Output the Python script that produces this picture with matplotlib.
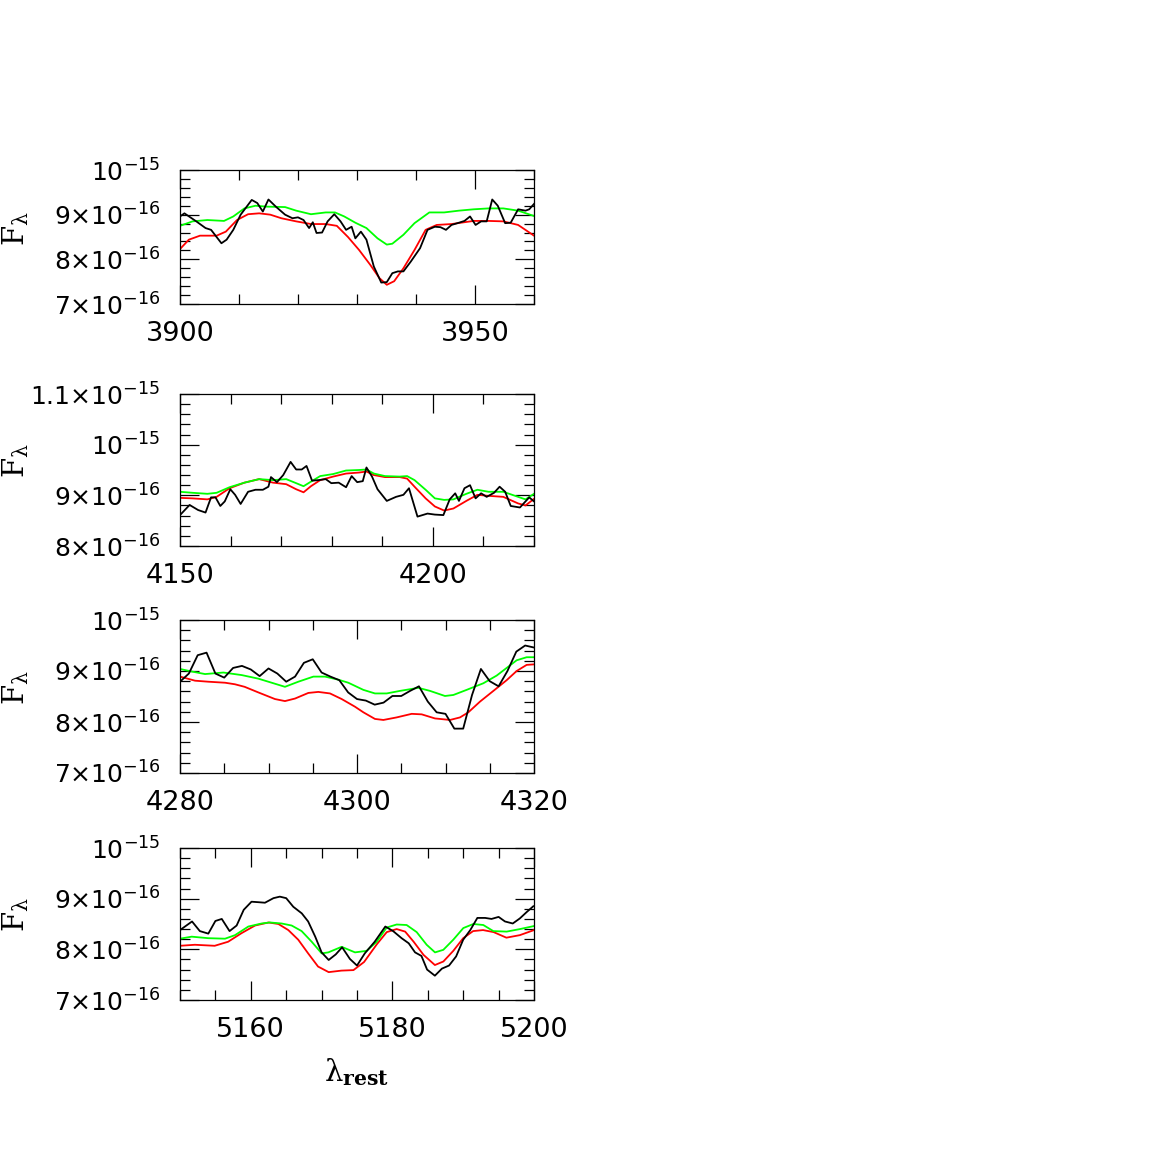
import numpy as np
import matplotlib
matplotlib.use("Agg")
import matplotlib.pyplot as plt
from matplotlib.ticker import MultipleLocator

# Flux values are in units of 1e-16

# --- Panel 1 : 3900-3960 ---
p1_obs_wave = [3900.0, 3900.75, 3902.76, 3904.33, 3905.27, 3907.02, 3907.9, 3909.03, 3910.28, 3912.16,
               3913.1, 3914.04, 3914.99, 3916.24, 3917.81, 3919.06, 3920.0, 3920.94, 3921.88, 3922.51,
               3923.14, 3924.08, 3925.02, 3926.15, 3927.21, 3928.15, 3929.09, 3929.72, 3930.66, 3931.6,
               3932.85, 3934.11, 3935.05, 3935.99, 3936.93, 3937.87, 3939.12, 3940.69, 3941.95, 3943.2,
               3944.14, 3945.08, 3946.02, 3947.28, 3948.22, 3949.16, 3950.1, 3951.04, 3951.98, 3952.92,
               3953.86, 3955.11, 3956.05, 3957.31, 3958.56, 3959.19, 3960.0]
p1_obs_flux = [8.96, 9.03, 8.85, 8.70, 8.66, 8.36, 8.44, 8.66, 9.00, 9.33,
               9.26, 9.07, 9.34, 9.18, 9.00, 8.92, 8.94, 8.88, 8.70, 8.83,
               8.59, 8.60, 8.85, 9.01, 8.85, 8.66, 8.73, 8.47, 8.62, 8.44,
               7.84, 7.48, 7.49, 7.69, 7.73, 7.73, 7.95, 8.25, 8.66, 8.73,
               8.72, 8.66, 8.77, 8.82, 8.86, 8.96, 8.77, 8.85, 8.85, 9.34,
               9.20, 8.81, 8.82, 9.12, 9.09, 9.12, 9.24]
p1_red_wave = [3900, 3901.5, 3903.39, 3906.2, 3907.77, 3909.66, 3911.54, 3913.42, 3915.3, 3917.18,
               3919.69, 3922.2, 3924.7, 3926.58, 3928.47, 3930.35, 3932.23, 3933.8, 3935.05, 3936.3,
               3937.87, 3939.75, 3941.63, 3943.51, 3946.02, 3949.78, 3952.29, 3954.8, 3957.31, 3960]
p1_red_flux = [8.23, 8.44, 8.53, 8.53, 8.62, 8.88, 9.01, 9.03, 9.00, 8.92,
               8.85, 8.79, 8.79, 8.75, 8.50, 8.21, 7.88, 7.58, 7.43, 7.51,
               7.80, 8.21, 8.66, 8.77, 8.79, 8.86, 8.86, 8.85, 8.77, 8.53]
p1_green_wave = [3900, 3902.13, 3904.64, 3907.46, 3909.03, 3910.91, 3912.79, 3914.67, 3917.81, 3919.69,
                 3922.2, 3924.7, 3926.27, 3927.84, 3929.72, 3931.6, 3933.48, 3935.05, 3935.99, 3937.87,
                 3939.75, 3942.26, 3944.77, 3947.28, 3949.78, 3952.29, 3954.8, 3957.31, 3960]
p1_green_flux = [8.75, 8.85, 8.88, 8.86, 8.96, 9.14, 9.20, 9.18, 9.17, 9.09,
                 9.01, 9.05, 9.05, 8.96, 8.82, 8.70, 8.47, 8.33, 8.35, 8.55,
                 8.81, 9.05, 9.05, 9.09, 9.12, 9.14, 9.14, 9.09, 8.97]

# --- Panel 2 : 4150-4220 ---
p2_obs_wave = [4150.0, 4151.9, 4153.58, 4155.05, 4156.14, 4157.02, 4157.97, 4158.85, 4159.95, 4160.9,
               4161.99, 4163.46, 4164.92, 4166.39, 4167.48, 4167.99, 4169.17, 4170.41, 4171.87, 4172.97,
               4174.07, 4175.02, 4176.11, 4177.36, 4178.82, 4179.92, 4181.38, 4182.84, 4183.94, 4185.04,
               4186.14, 4186.87, 4187.97, 4189.06, 4190.89, 4192.72, 4194.18, 4195.28, 4196.96, 4198.94,
               4200.4, 4202.08, 4203.33, 4204.42, 4205.16, 4206.25, 4207.35, 4208.45, 4209.54, 4210.64,
               4212.1, 4213.2, 4214.3, 4215.4, 4217.22, 4218.32, 4219.05, 4220.0]
p2_obs_flux = [8.61, 8.81, 8.71, 8.66, 8.96, 8.96, 8.79, 8.88, 9.12, 9.01,
               8.83, 9.07, 9.11, 9.11, 9.17, 9.36, 9.26, 9.40, 9.66, 9.51,
               9.51, 9.58, 9.29, 9.30, 9.32, 9.24, 9.25, 9.16, 9.38, 9.26,
               9.28, 9.55, 9.37, 9.12, 8.89, 8.97, 9.01, 9.14, 8.58, 8.64,
               8.62, 8.61, 8.92, 9.04, 8.89, 9.14, 9.20, 8.94, 9.04, 8.97,
               9.05, 9.17, 9.07, 8.79, 8.76, 8.88, 8.96, 8.88]
p2_model_wave = [4150, 4152.49, 4155.41, 4157.24, 4159.8, 4162.73, 4165.65, 4168.4, 4171.0, 4172.97,
                 4174.43, 4175.89, 4177.72, 4180.28, 4182.84, 4185.4, 4186.87, 4188.33, 4190.53, 4193.45,
                 4194.91, 4196.38, 4198.57, 4200.4, 4202.23, 4204.06, 4206.62, 4208.81, 4211.01, 4213.93,
                 4216.86, 4218.32, 4220]
p2_red_flux = [8.95, 8.94, 8.92, 8.97, 9.14, 9.25, 9.32, 9.25, 9.22, 9.12,
               9.06, 9.18, 9.30, 9.37, 9.43, 9.45, 9.47, 9.40, 9.36, 9.36,
               9.33, 9.17, 8.94, 8.78, 8.70, 8.74, 8.89, 9.01, 8.99, 8.97,
               8.84, 8.80, 8.93]
p2_green_flux = [9.07, 9.05, 9.03, 9.05, 9.16, 9.25, 9.32, 9.30, 9.32, 9.24,
                 9.18, 9.27, 9.38, 9.42, 9.49, 9.50, 9.51, 9.43, 9.38, 9.37,
                 9.38, 9.30, 9.11, 8.94, 8.91, 8.92, 9.03, 9.11, 9.07, 9.07,
                 8.97, 8.92, 9.03]

# --- Panel 3 : 4280-4320 ---
p3_obs_wave = [4280, 4281, 4282, 4283, 4284, 4285, 4286, 4287, 4288, 4289,
               4290, 4291, 4292, 4293, 4294, 4295, 4296, 4297, 4298, 4299,
               4300, 4301, 4302, 4303, 4304, 4305, 4306, 4307, 4308, 4309,
               4310, 4311, 4312, 4313, 4314, 4315, 4316, 4317, 4318, 4319, 4320]
p3_obs_flux = [8.79, 8.95, 9.31, 9.36, 8.95, 8.87, 9.06, 9.10, 9.03, 8.90,
               9.05, 8.95, 8.79, 8.89, 9.16, 9.23, 8.97, 8.89, 8.82, 8.58,
               8.45, 8.42, 8.34, 8.38, 8.51, 8.51, 8.61, 8.70, 8.40, 8.19,
               8.16, 7.87, 7.87, 8.53, 9.04, 8.80, 8.70, 9.00, 9.38, 9.50, 9.46]
p3_red_wave = [4280.0, 4281.7, 4283.2, 4285.1, 4286.2, 4287.3, 4288.85, 4290.73, 4291.86, 4293.0,
               4294.5, 4295.63, 4296.95, 4298.27, 4299.77, 4300.72, 4302.03, 4302.98, 4304.48, 4306.18,
               4307.31, 4308.81, 4310.51, 4311.64, 4312.58, 4313.9, 4315.41, 4316.91, 4318.04, 4319.17, 4320.0]
p3_red_flux = [8.89, 8.81, 8.79, 8.77, 8.74, 8.69, 8.58, 8.45, 8.41, 8.46,
               8.57, 8.59, 8.56, 8.45, 8.30, 8.19, 8.06, 8.04, 8.09, 8.16,
               8.15, 8.07, 8.04, 8.09, 8.19, 8.40, 8.61, 8.82, 9.00, 9.12, 9.13]
p3_green_wave = [4280.0, 4281.32, 4282.83, 4284.9, 4286.97, 4288.85, 4290.36, 4291.86, 4293.37, 4295.07,
                 4296.38, 4297.89, 4299.02, 4300.72, 4302.03, 4303.35, 4304.86, 4306.93, 4308.25, 4309.94,
                 4310.89, 4312.39, 4314.28, 4315.78, 4316.91, 4318.04, 4319.17, 4320.0]
p3_green_flux = [9.04, 8.99, 8.94, 8.97, 8.92, 8.85, 8.77, 8.69, 8.79, 8.89,
                 8.89, 8.83, 8.77, 8.63, 8.56, 8.56, 8.61, 8.67, 8.61, 8.51,
                 8.53, 8.63, 8.76, 8.91, 9.06, 9.21, 9.27, 9.27]

# --- Panel 4 : 5150-5200 ---
p4_obs_wave = [5150.0, 5150.7, 5151.7, 5152.8, 5154.0, 5155.0, 5155.9, 5157.0, 5158.0, 5159.0,
               5160.1, 5161.1, 5162.0, 5163.2, 5164.1, 5165.0, 5166.0, 5167.2, 5168.1, 5169.1,
               5170.0, 5171.0, 5172.0, 5172.9, 5174.0, 5175.0, 5176.1, 5177.5, 5179.0, 5180.1,
               5181.3, 5182.3, 5183.2, 5184.1, 5184.9, 5186.0, 5187.0, 5188.0, 5189.0, 5190.0,
               5191.0, 5192.0, 5193.1, 5194.0, 5195.0, 5195.9, 5197.0, 5198.0, 5199.0, 5199.9]
p4_obs_flux = [8.38, 8.45, 8.55, 8.36, 8.31, 8.56, 8.60, 8.36, 8.47, 8.78,
               8.94, 8.93, 8.92, 9.01, 9.04, 9.01, 8.84, 8.71, 8.55, 8.25,
               7.94, 7.79, 7.90, 8.04, 7.81, 7.68, 7.92, 8.15, 8.45, 8.36,
               8.22, 8.12, 7.94, 7.87, 7.60, 7.48, 7.62, 7.68, 7.86, 8.19,
               8.38, 8.62, 8.62, 8.60, 8.64, 8.55, 8.51, 8.61, 8.74, 8.85]
p4_red_wave = [5150.0, 5152.1, 5154.9, 5156.8, 5158.7, 5160.6, 5162.5, 5163.9, 5165.3, 5166.7,
               5168.1, 5169.5, 5171.0, 5172.8, 5174.5, 5176.0, 5177.8, 5179.2, 5180.6, 5181.8,
               5183.0, 5184.4, 5186.0, 5187.2, 5188.6, 5190.0, 5191.4, 5192.8, 5194.3, 5196.1,
               5198.0, 5200.0]
p4_red_flux = [8.07, 8.09, 8.07, 8.15, 8.32, 8.47, 8.53, 8.50, 8.38, 8.19,
               7.92, 7.66, 7.55, 7.58, 7.59, 7.75, 8.10, 8.34, 8.40, 8.35,
               8.15, 7.89, 7.69, 7.76, 7.97, 8.22, 8.36, 8.38, 8.34, 8.23,
               8.28, 8.38]
p4_green_wave = [5150.0, 5151.65, 5154.0, 5156.36, 5157.77, 5159.65, 5161.53, 5162.71, 5164.36, 5165.77,
                 5167.18, 5168.6, 5170.01, 5170.95, 5172.83, 5174.72, 5176.36, 5177.78, 5179.19, 5180.6,
                 5182.01, 5183.43, 5184.84, 5186.02, 5187.19, 5188.6, 5190.02, 5191.43, 5192.84, 5194.25,
                 5196.14, 5198.02, 5200.0]
p4_green_flux = [8.21, 8.25, 8.22, 8.21, 8.28, 8.45, 8.51, 8.53, 8.51, 8.47,
                 8.36, 8.15, 7.92, 7.94, 8.05, 7.94, 7.97, 8.15, 8.43, 8.49,
                 8.48, 8.34, 8.09, 7.94, 7.99, 8.19, 8.42, 8.50, 8.48, 8.36,
                 8.35, 8.40, 8.46]

# axis settings per panel
p1_xlim, p1_xmajor, p1_xminor = (3900, 3960), [3900, 3950], 10
p2_xlim, p2_xmajor, p2_xminor = (4150, 4220), [4150, 4200], 10
p3_xlim, p3_xmajor, p3_xminor = (4280, 4320), [4280, 4300, 4320], 5
p4_xlim, p4_xmajor, p4_xminor = (5150, 5200), [5160, 5180, 5200], 5

ylim_a = (7, 10)
yticks_a = [7, 8, 9, 10]
ylabels_a = [r"$7{\times}10^{-16}$", r"$8{\times}10^{-16}$", r"$9{\times}10^{-16}$", r"$10^{-15}$"]
ylim_b = (8, 11)
yticks_b = [8, 9, 10, 11]
ylabels_b = [r"$8{\times}10^{-16}$", r"$9{\times}10^{-16}$", r"$10^{-15}$", r"$1.1{\times}10^{-15}$"]

panels = [
	dict(obs=(p1_obs_wave, p1_obs_flux), red=(p1_red_wave, p1_red_flux), green=(p1_green_wave, p1_green_flux),
		xlim=p1_xlim, xmajor=p1_xmajor, xminor=p1_xminor, ylim=ylim_a, yticks=yticks_a, ylabels=ylabels_a,
		rect=[180, 170, 354, 134]),
	dict(obs=(p2_obs_wave, p2_obs_flux), red=(p2_model_wave, p2_red_flux), green=(p2_model_wave, p2_green_flux),
		xlim=p2_xlim, xmajor=p2_xmajor, xminor=p2_xminor, ylim=ylim_b, yticks=yticks_b, ylabels=ylabels_b,
		rect=[180, 394, 354, 152]),
	dict(obs=(p3_obs_wave, p3_obs_flux), red=(p3_red_wave, p3_red_flux), green=(p3_green_wave, p3_green_flux),
		xlim=p3_xlim, xmajor=p3_xmajor, xminor=p3_xminor, ylim=ylim_a, yticks=yticks_a, ylabels=ylabels_a,
		rect=[180, 620, 354, 153]),
	dict(obs=(p4_obs_wave, p4_obs_flux), red=(p4_red_wave, p4_red_flux), green=(p4_green_wave, p4_green_flux),
		xlim=p4_xlim, xmajor=p4_xmajor, xminor=p4_xminor, ylim=ylim_a, yticks=yticks_a, ylabels=ylabels_a,
		rect=[180, 848, 354, 152]),
]

SIZE = 1163.0
UNIT = 1e-16

fig = plt.figure(figsize=(11.63, 11.63), dpi=100)
fig.patch.set_facecolor("white")

for i, p in enumerate(panels):
	x0, top, w, h = p["rect"]
	ax = fig.add_axes([x0 / SIZE, 1 - (top + h) / SIZE, w / SIZE, h / SIZE])

	ax.plot(p["red"][0], np.array(p["red"][1]) * UNIT, color="#ff0000", lw=1.3, zorder=2)
	ax.plot(p["green"][0], np.array(p["green"][1]) * UNIT, color="#00ff00", lw=1.3, zorder=2)
	ax.plot(p["obs"][0], np.array(p["obs"][1]) * UNIT, color="black", lw=1.3, zorder=3)

	ax.set_xlim(*p["xlim"])
	ax.set_ylim(p["ylim"][0] * UNIT, p["ylim"][1] * UNIT)

	ax.set_xticks(p["xmajor"])
	ax.set_xticklabels([str(v) for v in p["xmajor"]])
	ax.xaxis.set_minor_locator(MultipleLocator(p["xminor"]))
	ax.set_yticks([v * UNIT for v in p["yticks"]])
	ax.set_yticklabels(p["ylabels"])
	ax.yaxis.set_minor_locator(MultipleLocator(0.2 * UNIT))

	ax.tick_params(which="both", direction="in", top=True, right=True, width=0.9, colors="black")
	ax.tick_params(which="major", length=13.7)
	ax.tick_params(axis="x", which="major", pad=12, labelsize=19.5)
	ax.tick_params(axis="y", which="major", pad=14, labelsize=18)
	ax.tick_params(which="minor", length=7.2)
	for spine in ax.spines.values():
		spine.set_linewidth(0.9)

	# F_lambda label on every panel
	ax.set_ylabel(r"$\mathrm{F}_{\mathrm{\lambda}}$", fontsize=21, math_fontfamily="dejavuserif")
	ax.yaxis.set_label_coords(-0.42, 0.56)

	if i == len(panels) - 1:
		ax.set_xlabel(r"$\mathrm{\lambda}_{\mathbf{rest}}$", fontsize=21, math_fontfamily="dejavuserif", labelpad=10)

fig.savefig("out.png", dpi=100, facecolor="white")
